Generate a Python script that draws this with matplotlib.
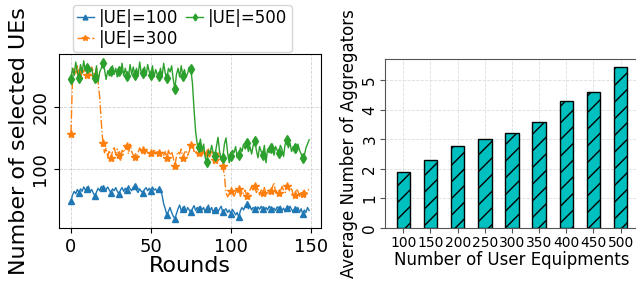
import numpy as np
import matplotlib
matplotlib.use("Agg")
import matplotlib.pyplot as plt

# ---------------- data: left panel (selected UEs per round) ----------------
rounds = list(range(150))

ue100 = [48, 58, 64, 60, 67, 62, 68, 64, 71, 66,
         68, 72, 63, 67, 61, 57, 63, 69, 65, 72,
         69, 64, 67, 71, 66, 62, 68, 65, 70, 64,
         60, 66, 70, 64, 69, 66, 73, 68, 65, 71,
         73, 66, 62, 68, 64, 62, 67, 70, 65, 69,
         64, 71, 66, 68, 62, 67, 66, 58, 44, 36,
         26, 32, 38, 30, 24, 20, 28, 36, 42, 33,
         36, 40, 31, 38, 34, 30, 36, 41, 33, 38,
         35, 40, 34, 38, 31, 36, 42, 33, 38, 30,
         34, 38, 31, 36, 40, 30, 33, 36, 30, 34,
         28, 35, 31, 26, 30, 22, 33, 38, 34, 40,
         43, 36, 40, 34, 38, 36, 32, 39, 35, 40,
         35, 31, 38, 34, 40, 36, 32, 37, 33, 39,
         36, 40, 33, 37, 31, 38, 34, 40, 35, 31,
         36, 33, 38, 30, 36, 28, 34, 30, 38, 33]

ue300 = [157, 245, 262, 252, 266, 256, 250, 264, 256, 262,
         251, 260, 250, 264, 256, 250, 262, 238, 215, 175,
         142, 126, 134, 120, 130, 118, 128, 136, 124, 132,
         122, 112, 130, 126, 138, 137, 124, 140, 128, 122,
         120, 118, 126, 134, 128, 131, 124, 130, 126, 120,
         125, 122, 132, 124, 128, 125, 130, 126, 122, 128,
         117, 130, 122, 128, 118, 105, 120, 128, 124, 132,
         118, 126, 130, 122, 128, 139, 142, 128, 130, 124,
         126, 132, 120, 130, 124, 126, 132, 118, 128, 124,
         115, 122, 126, 120, 116, 104, 90, 62, 55, 60,
         64, 60, 56, 62, 68, 68, 56, 64, 60, 66,
         56, 58, 66, 72, 64, 72, 62, 68, 58, 66,
         62, 70, 60, 58, 66, 65, 70, 78, 62, 66,
         62, 64, 72, 66, 62, 72, 68, 64, 70, 58,
         58, 68, 64, 56, 62, 60, 66, 60, 64, 68]

ue500 = [245, 262, 250, 272, 256, 247, 268, 254, 274, 258,
         263, 266, 256, 262, 248, 246, 266, 240, 256, 262,
         271, 260, 244, 258, 250, 258, 266, 252, 262, 248,
         257, 254, 270, 250, 262, 250, 248, 268, 252, 264,
         251, 262, 250, 272, 254, 255, 264, 250, 268, 256,
         251, 266, 248, 260, 252, 249, 262, 248, 270, 254,
         246, 262, 256, 266, 244, 229, 252, 262, 248, 266,
         250, 260, 248, 254, 264, 261, 238, 196, 160, 140,
         135, 148, 128, 140, 118, 112, 130, 124, 138, 126,
         121, 136, 151, 128, 114, 118, 140, 150, 126, 110,
         121, 130, 126, 136, 118, 122, 134, 128, 140, 132,
         142, 128, 136, 124, 138, 145, 130, 118, 136, 128,
         123, 138, 110, 132, 126, 133, 140, 122, 136, 130,
         126, 138, 132, 120, 140, 146, 134, 142, 128, 136,
         133, 126, 140, 130, 124, 117, 122, 134, 140, 147]

# ---------------- data: right panel (aggregators) ----------------
num_ue = ["100", "150", "200", "250", "300", "350", "400", "450", "500"]
avg_aggr = [1.9, 2.3, 2.78, 3.03, 3.22, 3.6, 4.3, 4.62, 5.45]

fig = plt.figure(figsize=(6.36, 2.83), dpi=100)

# ---------------- left panel ----------------
ax = fig.add_axes([0.0928, 0.1943, 0.412, 0.615])
ax.plot(rounds, ue100, '-', marker='^', color='tab:blue', markevery=5,
        markersize=5, linewidth=1, label='|UE|=100')
ax.plot(rounds, ue300, '-.', marker='*', color='tab:orange', markevery=5,
        markersize=6, linewidth=1, label='|UE|=300')
ax.plot(rounds, ue500, '-', marker='d', color='tab:green', markevery=5,
        markersize=5, linewidth=1, label='|UE|=500')
ax.set_xticks([0, 50, 100, 150])
ax.set_yticks([100, 200])
ax.set_ylim(5, 285)
ax.tick_params(axis='both', labelsize=13)
plt.setp(ax.get_yticklabels(), rotation=90, va='center')
ax.grid(which='major', linestyle='--', linewidth=0.6, color='#d0d0d0')
ax.set_xlabel('Rounds', fontsize=16, labelpad=0)
ax.set_ylabel('Number of selected UEs', fontsize=16, labelpad=2)
ax.legend(loc='lower left', bbox_to_anchor=(0.053, 1.01), ncol=2,
          fontsize=12, handlelength=1.0, handletextpad=0.3,
          columnspacing=0.5, borderpad=0.25, labelspacing=0.2,
          markerscale=0.7, borderaxespad=0.)

# ---------------- right panel ----------------
ax2 = fig.add_axes([0.6053, 0.1943, 0.3994, 0.597])
xpos = np.arange(len(num_ue))
ax2.bar(xpos, avg_aggr, width=0.5, color='c', edgecolor='black',
        hatch='//', linewidth=1, zorder=3)
ax2.set_xticks(xpos)
ax2.set_xticklabels(num_ue)
ax2.set_yticks([0, 1, 2, 3, 4, 5])
ax2.tick_params(axis='x', labelsize=10, pad=2, colors='#555555', labelcolor='black')
ax2.tick_params(axis='y', labelsize=11, pad=2, colors='#555555', labelcolor='black')
plt.setp(ax2.get_yticklabels(), rotation=90, va='center')
for s in ax2.spines.values():
    s.set_color('#555555')
ax2.grid(which='major', linestyle='--', linewidth=0.6, color='#dddddd', zorder=0)
ax2.set_axisbelow(True)
ax2.set_xlabel('Number of User Equipments', fontsize=12, labelpad=1)
ax2.set_ylabel('Average Number of Aggregators', fontsize=12, labelpad=3)

fig.savefig('out.png', dpi=100)
